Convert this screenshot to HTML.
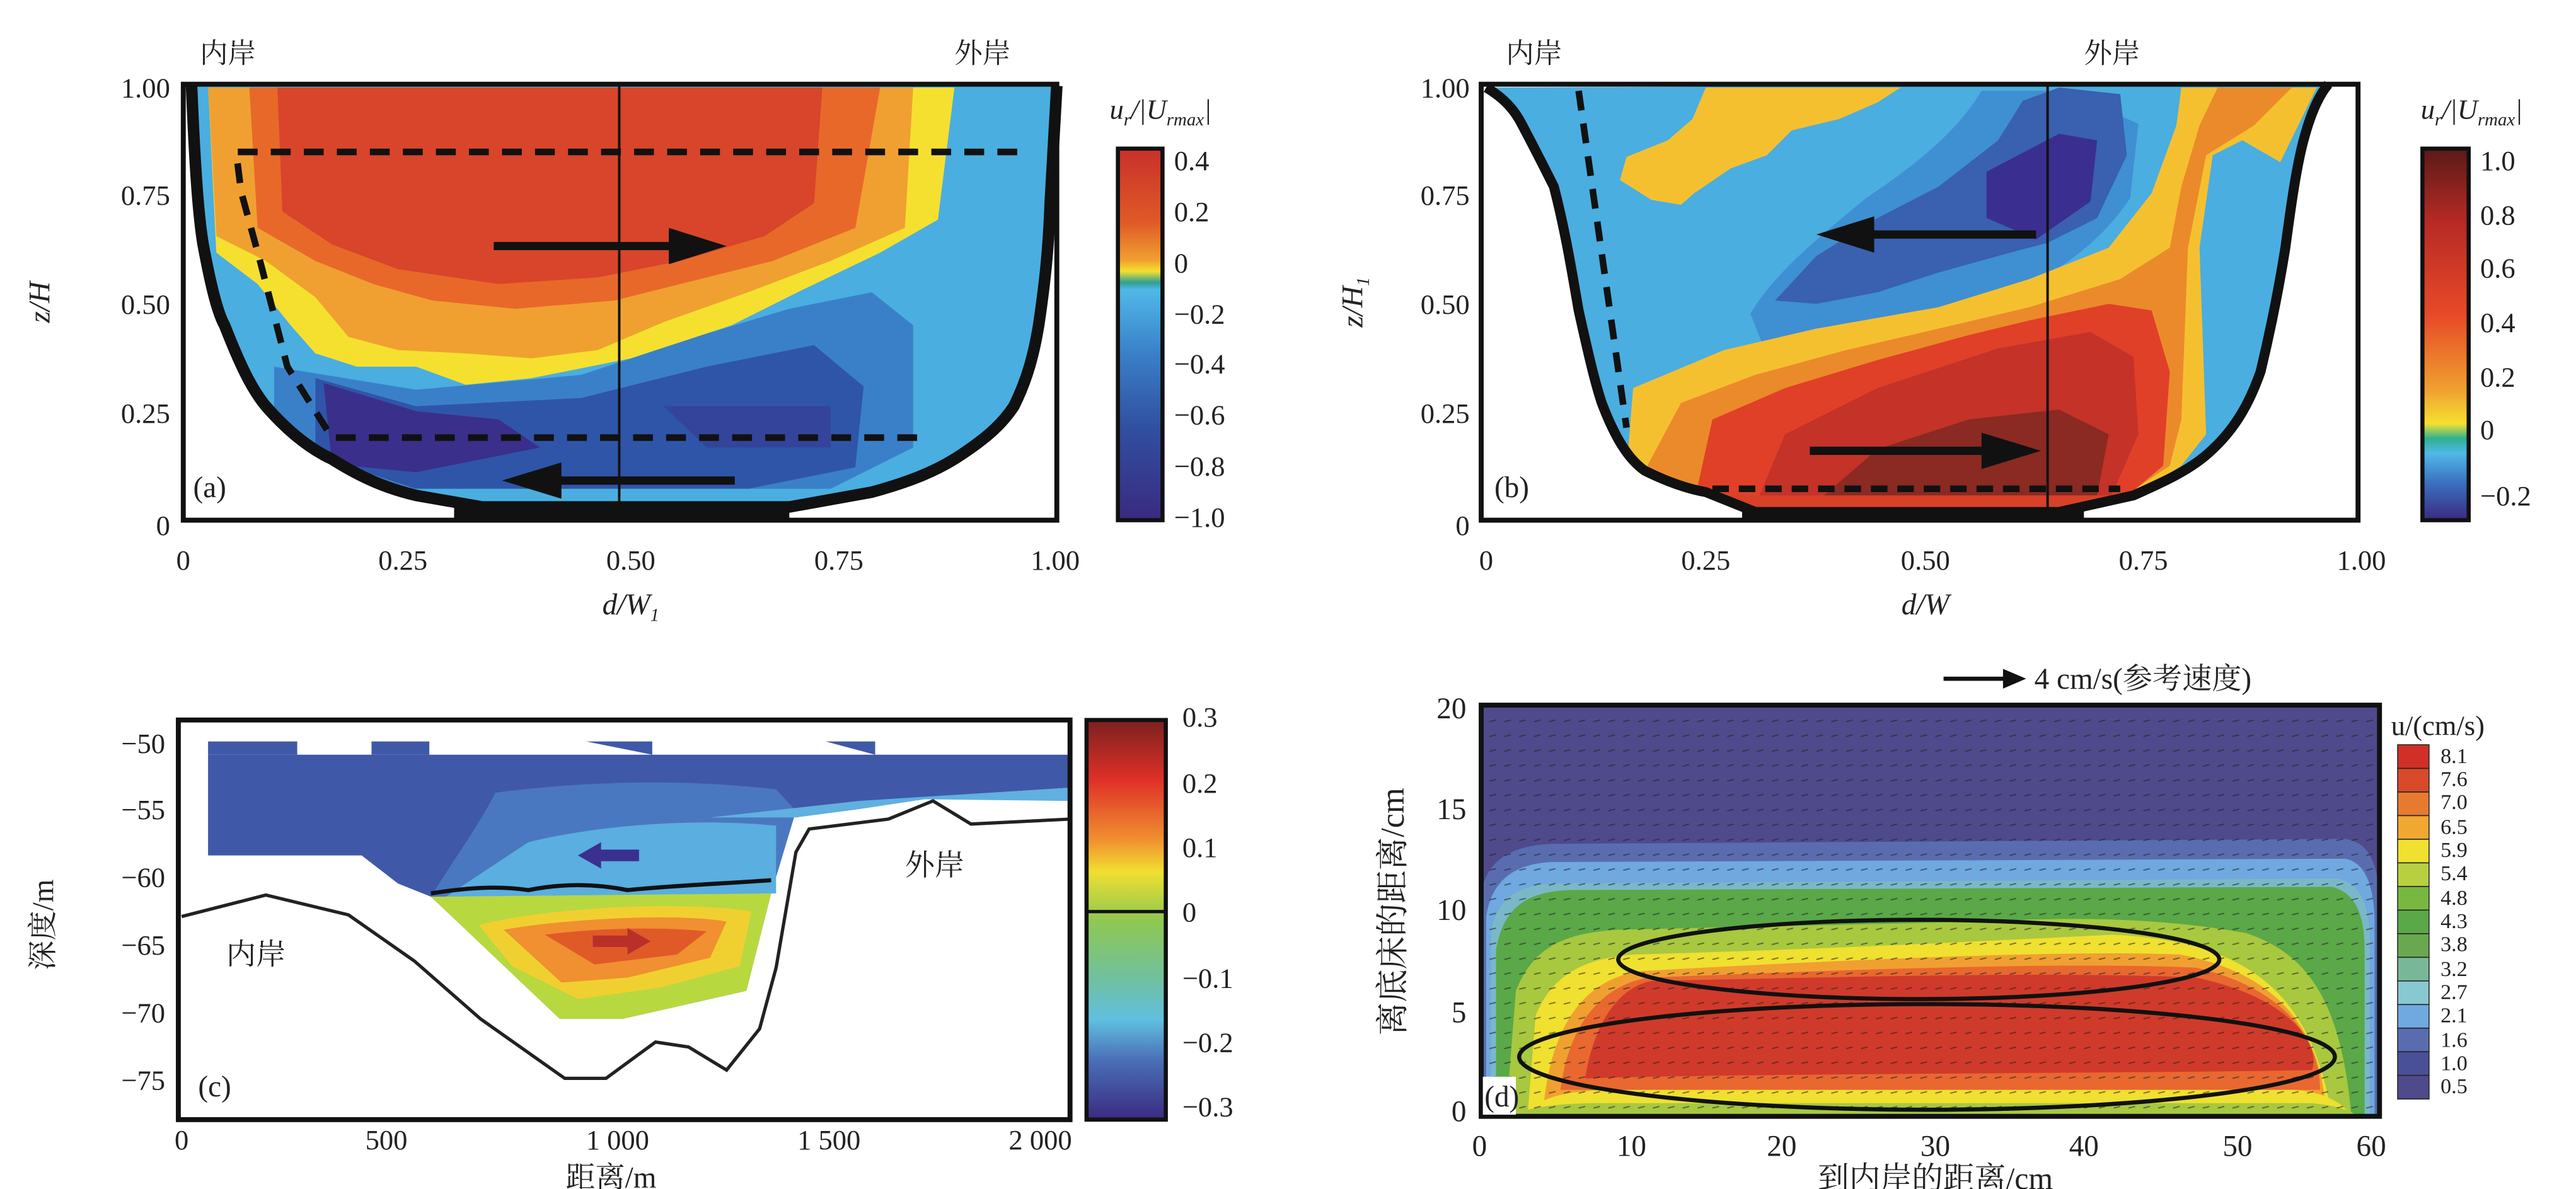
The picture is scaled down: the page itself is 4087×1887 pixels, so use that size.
<!DOCTYPE html>
<html><head><meta charset="utf-8">
<style>
html,body{margin:0;padding:0;background:#fff;}
svg{display:block;}
text{font-family:"Liberation Serif","Noto Serif CJK SC","Noto Sans CJK SC",serif;fill:#222;}
</style></head>
<body>
<svg width="4087" height="1887" viewBox="0 0 1560 720" preserveAspectRatio="none" xmlns="http://www.w3.org/2000/svg">
<defs>
<linearGradient id="cba" x1="0" y1="0" x2="0" y2="1">
<stop offset="0" stop-color="#c8302a"/><stop offset="0.2" stop-color="#e05a28"/><stop offset="0.3" stop-color="#f0a030"/><stop offset="0.33" stop-color="#f5e030"/><stop offset="0.36" stop-color="#30a090"/><stop offset="0.38" stop-color="#50b8e8"/><stop offset="0.55" stop-color="#3a80c8"/><stop offset="0.75" stop-color="#3050a0"/><stop offset="1" stop-color="#3a2a80"/>
</linearGradient>
<linearGradient id="cbb" x1="0" y1="0" x2="0" y2="1">
<stop offset="0" stop-color="#5a1a18"/><stop offset="0.2" stop-color="#b82a25"/><stop offset="0.45" stop-color="#e84a28"/><stop offset="0.65" stop-color="#f0a030"/><stop offset="0.74" stop-color="#f5e030"/><stop offset="0.78" stop-color="#30b090"/><stop offset="0.82" stop-color="#50b8e8"/><stop offset="0.9" stop-color="#3a70c0"/><stop offset="1" stop-color="#3a2a80"/>
</linearGradient>
<linearGradient id="cbc" x1="0" y1="0" x2="0" y2="1">
<stop offset="0" stop-color="#7a2020"/><stop offset="0.15" stop-color="#e03028"/><stop offset="0.3" stop-color="#f09030"/><stop offset="0.38" stop-color="#f0e030"/><stop offset="0.5" stop-color="#90c850"/><stop offset="0.65" stop-color="#70c0a0"/><stop offset="0.75" stop-color="#60c0e0"/><stop offset="0.85" stop-color="#4a70b8"/><stop offset="1" stop-color="#3a2a80"/>
</linearGradient>
<clipPath id="ua"><path d="M116,52 C118,100 120,130 123,148 C128,175 132,190 136,197 C145,220 152,235 161,246 C175,262 188,272 201,278 C220,290 235,296 252,300 L292,307 L478,307 L528,298 C550,292 565,286 578,278 C600,264 608,255 614,246 C622,230 626,215 629,197 C633,170 635,150 636,123 L640,52 Z"/></clipPath>
<clipPath id="ub"><path d="M900,53 C912,60 918,68 922,76 C932,95 937,105 941,113 C948,140 952,165 956,188 C962,215 966,232 970,244 C978,265 986,278 996,285 C1010,292 1022,296 1033,298 L1063,310 L1247,310 L1292,300 C1310,292 1328,284 1340,272 C1355,258 1363,242 1369,225 C1375,200 1380,175 1384,150 C1388,120 1391,100 1395,85 C1399,70 1404,58 1410,51 Z"/></clipPath>
<pattern id="arr" width="9" height="9" patternUnits="userSpaceOnUse"><line x1="2" y1="5" x2="6" y2="4" stroke="#222" stroke-width="0.7"/></pattern>
</defs>

<!-- ===== Panel (a) ===== -->
<text x="121" y="38" font-size="17">内岸</text>
<text x="578" y="38" font-size="17">外岸</text>
<g clip-path="url(#ua)">
<rect x="100" y="40" width="560" height="290" fill="#4aaee0"/>
<path d="M126,53 L578,53 L568,133 L533,153 L483,177 L443,197 L382,217 L322,229 L282,233 L252,222 L216,222 L191,214 L176,197 L156,172 L131,153 Z" fill="#f5e030"/>
<path d="M126,53 L553,53 L548,138 L503,158 L453,177 L402,195 L362,212 L322,217 L282,214 L241,212 L211,204 L191,180 L161,158 L131,143 Z" fill="#f0a030"/>
<path d="M151,53 L533,53 L518,138 L468,158 L412,172 L372,182 L312,187 L262,182 L226,172 L191,158 L156,138 Z" fill="#e8682a"/>
<path d="M168,53 L498,53 L493,123 L463,143 L412,158 L362,168 L302,172 L241,163 L201,148 L171,128 Z" fill="#d8452a"/>
<path d="M166,222 L252,236 L352,227 L428,202 L478,187 L528,177 L553,197 L553,271 L503,296 L252,300 L166,271 Z" fill="#3a80c8"/>
<path d="M191,229 L252,246 L352,241 L428,222 L493,209 L523,234 L518,283 L453,296 L252,296 L191,276 Z" fill="#2f55a8"/>
<path d="M196,232 L252,249 L302,254 L327,271 L252,286 L201,281 Z" fill="#3a2f8a"/>
<path d="M402,246 L503,246 L503,271 L428,271 Z" fill="#33449a"/>
<rect x="240" y="296" width="300" height="14" fill="#4aaee0"/>
</g>
<path d="M116,52 C118,100 120,130 123,148 C128,175 132,190 136,197 C145,220 152,235 161,246 C175,262 188,272 201,278 C220,290 235,296 252,300 L292,307 L478,307 L528,298 C550,292 565,286 578,278 C600,264 608,255 614,246 C622,230 626,215 629,197 C633,170 635,150 636,123 L640,52" fill="none" stroke="#111" stroke-width="7"/>
<rect x="275" y="306" width="203" height="9" fill="#111"/>
<rect x="111" y="51" width="529" height="264" fill="none" stroke="#111" stroke-width="3"/>
<line x1="375" y1="51" x2="375" y2="315" stroke="#111" stroke-width="1.5"/>
<path d="M616,92 L143,92 L146,116 L158,160 L174,222 L201,265 L561,265" fill="none" stroke="#111" stroke-width="4" stroke-dasharray="12,8"/>
<line x1="299" y1="149" x2="410" y2="149" stroke="#111" stroke-width="5"/><path d="M405,138 L440,149 L405,160 Z" fill="#111"/>
<line x1="445" y1="291" x2="335" y2="291" stroke="#111" stroke-width="5"/><path d="M340,280 L304,291 L340,302 Z" fill="#111"/>
<text x="117" y="301" font-size="18">(a)</text>
<g font-size="17" text-anchor="end">
<text x="103" y="59">1.00</text><text x="103" y="124">0.75</text><text x="103" y="190">0.50</text><text x="103" y="256">0.25</text><text x="103" y="324">0</text>
</g>
<g font-size="17" text-anchor="middle">
<text x="111" y="345">0</text><text x="244" y="345">0.25</text><text x="382" y="345">0.50</text><text x="508" y="345">0.75</text><text x="639" y="345">1.00</text>
</g>
<text x="382" y="372" font-size="18" text-anchor="middle" font-style="italic">d/W<tspan font-size="11" dy="4">1</tspan></text>
<text transform="translate(30,183) rotate(-90)" font-size="18" text-anchor="middle" font-style="italic">z/H</text>
<text x="672" y="72" font-size="17" font-style="italic">u<tspan font-size="11" dy="4">r</tspan><tspan dy="-4">/|U</tspan><tspan font-size="11" dy="4">rmax</tspan><tspan dy="-4">|</tspan></text>
<rect x="677" y="90" width="27" height="225" fill="url(#cba)" stroke="#111" stroke-width="2.5"/>
<g font-size="17"><text x="711" y="103">0.4</text><text x="711" y="134">0.2</text><text x="711" y="165">0</text><text x="711" y="196">−0.2</text><text x="711" y="226">−0.4</text><text x="711" y="257">−0.6</text><text x="711" y="288">−0.8</text><text x="711" y="319">−1.0</text></g>

<!-- ===== Panel (b) ===== -->
<text x="912" y="38" font-size="17">内岸</text>
<text x="1262" y="38" font-size="17">外岸</text>
<g clip-path="url(#ub)">
<rect x="890" y="40" width="550" height="290" fill="#4aaee0"/>
<path d="M1033,53 L1151,53 L1137,62 L1114,72 L1085,79 L1070,94 L1048,102 L1026,117 L1018,124 L1000,121 L981,109 L985,95 L1010,85 L1025,72 Z" fill="#f5c030"/>
<path d="M1060,190 C1075,165 1100,145 1130,120 C1160,100 1185,80 1200,55 L1250,55 L1295,75 L1290,120 C1270,150 1240,170 1200,185 C1150,200 1100,210 1070,215 Z" fill="#3f8fd3"/>
<path d="M1075,182 L1100,155 L1137,132 L1174,113 L1210,85 L1225,61 L1247,53 L1284,57 L1288,94 L1270,132 L1240,147 L1210,155 L1174,165 L1137,177 L1100,184 Z" fill="#3a60b0"/>
<path d="M1203,104 L1247,81 L1270,85 L1266,122 L1233,145 L1203,132 Z" fill="#3a2f90"/>
<path d="M985,285 L989,235 L1044,212 L1100,199 L1174,186 L1229,169 L1277,150 L1303,117 L1318,76 L1321,53 L1403,53 L1380,100 L1358,85 L1340,94 L1336,263 L1321,282 L1292,300 L1063,308 Z" fill="#f5c030"/>
<path d="M996,285 L1018,244 L1063,227 L1118,212 L1174,199 L1229,186 L1284,169 L1314,150 L1321,113 L1332,76 L1343,53 L1388,53 L1365,76 L1336,94 L1325,150 L1321,254 L1314,282 L1284,302 L1040,310 Z" fill="#eb8a2a"/>
<path d="M1026,304 L1037,254 L1081,235 L1137,218 L1192,203 L1229,194 L1277,184 L1303,188 L1314,225 L1310,282 L1284,304 Z" fill="#e04028"/>
<path d="M1063,306 L1081,263 L1137,235 L1210,211 L1266,201 L1292,216 L1295,263 L1277,304 Z" fill="#c43228"/>
<path d="M1100,304 L1137,272 L1192,254 L1247,248 L1277,263 L1270,300 Z" fill="#8a2a22"/>
<path d="M1336,263 L1332,150 L1340,94 L1358,85 L1384,100 L1384,225 L1369,263 L1347,274 Z" fill="#4aaee0"/>
<rect x="1040" y="300" width="250" height="12" fill="#d84028"/>
</g>
<path d="M900,53 C912,60 918,68 922,76 C932,95 937,105 941,113 C948,140 952,165 956,188 C962,215 966,232 970,244 C978,265 986,278 996,285 C1010,292 1022,296 1033,298 L1063,310 L1247,310 L1292,300 C1310,292 1328,284 1340,272 C1355,258 1363,242 1369,225 C1375,200 1380,175 1384,150 C1388,120 1391,100 1395,85 C1399,70 1404,58 1410,51" fill="none" stroke="#111" stroke-width="6"/>
<rect x="1055" y="309" width="207" height="6" fill="#111"/>
<rect x="897" y="51" width="531" height="264" fill="none" stroke="#111" stroke-width="3"/>
<line x1="1240" y1="51" x2="1240" y2="308" stroke="#111" stroke-width="1.5"/>
<path d="M956,55 L985,259" fill="none" stroke="#111" stroke-width="4" stroke-dasharray="12,8"/>
<path d="M1037,296 L1284,296" fill="none" stroke="#111" stroke-width="4" stroke-dasharray="10,6"/>
<line x1="1233" y1="142" x2="1130" y2="142" stroke="#111" stroke-width="5"/><path d="M1135,131 L1100,142 L1135,153 Z" fill="#111"/>
<line x1="1096" y1="273" x2="1205" y2="273" stroke="#111" stroke-width="5"/><path d="M1200,262 L1236,273 L1200,284 Z" fill="#111"/>
<text x="905" y="301" font-size="18">(b)</text>
<g font-size="17" text-anchor="end">
<text x="890" y="59">1.00</text><text x="890" y="124">0.75</text><text x="890" y="190">0.50</text><text x="890" y="256">0.25</text><text x="890" y="324">0</text>
</g>
<g font-size="17" text-anchor="middle">
<text x="900" y="345">0</text><text x="1033" y="345">0.25</text><text x="1166" y="345">0.50</text><text x="1298" y="345">0.75</text><text x="1430" y="345">1.00</text>
</g>
<text x="1166" y="372" font-size="18" text-anchor="middle" font-style="italic">d/W</text>
<text transform="translate(825,183) rotate(-90)" font-size="18" text-anchor="middle" font-style="italic">z/H<tspan font-size="11" dy="4">1</tspan></text>
<text x="1466" y="72" font-size="17" font-style="italic">u<tspan font-size="11" dy="4">r</tspan><tspan dy="-4">/|U</tspan><tspan font-size="11" dy="4">rmax</tspan><tspan dy="-4">|</tspan></text>
<rect x="1467" y="90" width="28" height="225" fill="url(#cbb)" stroke="#111" stroke-width="2.5"/>
<g font-size="17"><text x="1502" y="103">1.0</text><text x="1502" y="136">0.8</text><text x="1502" y="168">0.6</text><text x="1502" y="201">0.4</text><text x="1502" y="234">0.2</text><text x="1502" y="266">0</text><text x="1502" y="306">−0.2</text></g>

<!-- ===== Panel (c) ===== -->
<path d="M126,457 L648,457 L648,477 L523,485 L482,491 L467,541 L452,600 L377,617 L339,617 L261,543 L241,535 L219,518 L126,518 Z" fill="#4058a8"/>
<path d="M126,449 L180,449 L180,457 L126,457 Z M225,449 L260,449 L260,457 L225,457 Z M355,449 L395,449 L395,457 Z M500,449 L530,449 L530,457 Z" fill="#4058a8"/>
<path d="M300,480 C340,475 400,470 470,478 L482,491 L467,541 L261,543 C275,520 290,500 300,480 Z" fill="#4a78c0"/>
<path d="M320,510 C360,500 420,495 470,500 L470,541 L270,543 Z" fill="#5aaee0"/>
<path d="M430,495 L520,485 L600,480 L648,477 L648,485 L560,484 L520,490 L482,495 Z" fill="#60b0e0"/>
<path d="M261,543 L467,541 L452,600 L377,617 L339,617 Z" fill="#b8d840"/>
<path d="M290,560 C340,548 420,546 455,552 L448,585 L400,598 L350,605 L310,585 Z" fill="#f0d030"/>
<path d="M305,563 C345,556 410,553 440,558 L430,580 L380,592 L340,595 Z" fill="#f09030"/>
<path d="M330,566 C360,562 400,561 428,564 L410,578 L360,584 Z" fill="#e05a28"/>
<path d="M261,541 C280,538 300,536 320,539 C340,535 360,535 380,539 C410,536 440,535 467,533" fill="none" stroke="#111" stroke-width="2.5"/>
<path d="M110,555 L161,542 L211,554 L251,582 L291,617 L342,653 L367,653 L397,631 L417,634 L440,648 L460,623 L470,586 L482,516 L490,502 L538,496 L565,485 L588,499 L648,496" fill="none" stroke="#222" stroke-width="2"/>
<path d="M387,518 L362,518" stroke="#3a3090" stroke-width="7"/><path d="M364,510 L350,518 L364,526 Z" fill="#3a3090"/>
<path d="M359,570 L382,570" stroke="#b83028" stroke-width="7"/><path d="M380,562 L394,570 L380,578 Z" fill="#b83028"/>
<rect x="108" y="436" width="540" height="242" fill="none" stroke="#111" stroke-width="3"/>
<text x="137" y="584" font-size="18">内岸</text>
<text x="548" y="530" font-size="18">外岸</text>
<text x="120" y="664" font-size="18">(c)</text>
<g font-size="17" text-anchor="end">
<text x="100" y="456">−50</text><text x="100" y="496">−55</text><text x="100" y="537">−60</text><text x="100" y="578">−65</text><text x="100" y="619">−70</text><text x="100" y="660">−75</text>
</g>
<g font-size="17" text-anchor="middle">
<text x="110" y="696">0</text><text x="234" y="696">500</text><text x="374" y="696">1 000</text><text x="502" y="696">1 500</text><text x="630" y="696">2 000</text>
</g>
<text x="370" y="719" font-size="18" text-anchor="middle">距离/m</text>
<text transform="translate(32,560) rotate(-90)" font-size="18" text-anchor="middle">深度/m</text>
<rect x="658" y="436" width="48" height="242" fill="url(#cbc)" stroke="#111" stroke-width="2.5"/>
<line x1="658" y1="552" x2="706" y2="552" stroke="#111" stroke-width="2"/>
<g font-size="17"><text x="716" y="440">0.3</text><text x="716" y="480">0.2</text><text x="716" y="519">0.1</text><text x="716" y="558">0</text><text x="716" y="598">−0.1</text><text x="716" y="637">−0.2</text><text x="716" y="676">−0.3</text></g>

<!-- ===== Panel (d) ===== -->
<line x1="1177" y1="411" x2="1215" y2="411" stroke="#111" stroke-width="2.5"/><path d="M1213,405 L1227,411 L1213,417 Z" fill="#111"/>
<text x="1232" y="417" font-size="18">4 cm/s(参考速度)</text>
<rect x="897" y="427" width="544" height="249" fill="#4f4a8c"/>
<path d="M897,676 L897,540 C900,525 910,512 940,511 L1420,508 C1436,510 1440,525 1441,545 L1441,676 Z" fill="#5a6cb0"/>
<path d="M900,676 L900,555 C903,535 915,523 940,522 L1420,520 C1432,522 1437,535 1438,555 L1438,676 Z" fill="#70a8e0"/>
<path d="M903,676 L903,565 C906,545 918,535 945,535 L1415,532 C1428,534 1434,545 1435,565 L1435,676 Z" fill="#7ab8c8"/>
<path d="M906,676 L906,575 C910,552 922,540 950,539 L1412,537 C1425,540 1432,552 1432,575 L1432,676 Z" fill="#5aa848"/>
<path d="M912,676 L918,600 C928,575 945,565 980,563 L1200,558 C1260,555 1310,556 1360,565 C1400,578 1418,610 1424,676 Z" fill="#a8c840"/>
<path d="M925,676 L930,615 C940,590 960,580 990,578 C1100,575 1200,570 1280,566 C1360,570 1400,600 1412,676 Z" fill="#f0e030"/>
<path d="M935,668 C940,620 960,592 995,588 C1100,582 1250,575 1320,578 C1385,590 1405,630 1408,668 Z" fill="#f0a030"/>
<path d="M945,660 C950,620 970,597 998,592 C1100,588 1250,582 1330,586 C1390,600 1405,635 1405,660 Z" fill="#e86830"/>
<path d="M960,653 C965,620 980,598 1000,594 C1100,592 1250,588 1330,592 C1395,606 1405,638 1400,648 C1300,650 1050,650 960,653 Z" fill="#d03a2a"/>
<path d="M925,676 C930,664 950,660 980,660 L1390,660 C1412,662 1420,670 1424,676 Z" fill="#f0e030"/>
<path d="M915,676 C925,670 945,668 970,668 L1400,668 C1420,670 1425,674 1428,676 Z" fill="#a8c840"/>
<rect x="897" y="427" width="544" height="249" fill="url(#arr)" opacity="0.6"/>
<ellipse cx="1162" cy="581" rx="182" ry="24" fill="none" stroke="#111" stroke-width="2.5"/>
<ellipse cx="1167" cy="640" rx="247" ry="32" fill="none" stroke="#111" stroke-width="2.5"/>
<rect x="897" y="427" width="544" height="249" fill="none" stroke="#111" stroke-width="3"/>
<rect x="898" y="652" width="20" height="23" fill="#fff"/>
<text x="899" y="670" font-size="18">(d)</text>
<g font-size="18" text-anchor="end">
<text x="888" y="435">20</text><text x="888" y="496">15</text><text x="888" y="557">10</text><text x="888" y="619">5</text><text x="888" y="679">0</text>
</g>
<g font-size="18" text-anchor="middle">
<text x="896" y="700">0</text><text x="988" y="700">10</text><text x="1079" y="700">20</text><text x="1172" y="700">30</text><text x="1262" y="700">40</text><text x="1355" y="700">50</text><text x="1436" y="700">60</text>
</g>
<text x="1172" y="720" font-size="19" text-anchor="middle">到内岸的距离/cm</text>
<text transform="translate(850,552) rotate(-90)" font-size="20" text-anchor="middle">离底床的距离/cm</text>
<text x="1448" y="445" font-size="17">u/(cm/s)</text>
<g stroke="#222" stroke-width="0.6">
<rect x="1452" y="451" width="19" height="14.3" fill="#d03028"/><rect x="1452" y="465.3" width="19" height="14.3" fill="#d84a2a"/><rect x="1452" y="479.6" width="19" height="14.3" fill="#e87a30"/><rect x="1452" y="493.9" width="19" height="14.3" fill="#f0a830"/><rect x="1452" y="508.2" width="19" height="14.3" fill="#f0e030"/><rect x="1452" y="522.5" width="19" height="14.3" fill="#b8d040"/><rect x="1452" y="536.8" width="19" height="14.3" fill="#78b840"/><rect x="1452" y="551.1" width="19" height="14.3" fill="#5aa848"/><rect x="1452" y="565.4" width="19" height="14.3" fill="#6aa850"/><rect x="1452" y="579.7" width="19" height="14.3" fill="#78b898"/><rect x="1452" y="594" width="19" height="14.3" fill="#88c8d0"/><rect x="1452" y="608.3" width="19" height="14.3" fill="#70a8e0"/><rect x="1452" y="622.6" width="19" height="14.3" fill="#5a6cb0"/><rect x="1452" y="636.9" width="19" height="14.3" fill="#4a5098"/><rect x="1452" y="651.2" width="19" height="14.3" fill="#4f4a8c"/>
</g>
<g font-size="13"><text x="1478" y="462">8.1</text><text x="1478" y="476">7.6</text><text x="1478" y="490">7.0</text><text x="1478" y="505">6.5</text><text x="1478" y="519">5.9</text><text x="1478" y="533">5.4</text><text x="1478" y="548">4.8</text><text x="1478" y="562">4.3</text><text x="1478" y="576">3.8</text><text x="1478" y="591">3.2</text><text x="1478" y="605">2.7</text><text x="1478" y="619">2.1</text><text x="1478" y="634">1.6</text><text x="1478" y="648">1.0</text><text x="1478" y="662">0.5</text></g>
</svg>
</body></html>
